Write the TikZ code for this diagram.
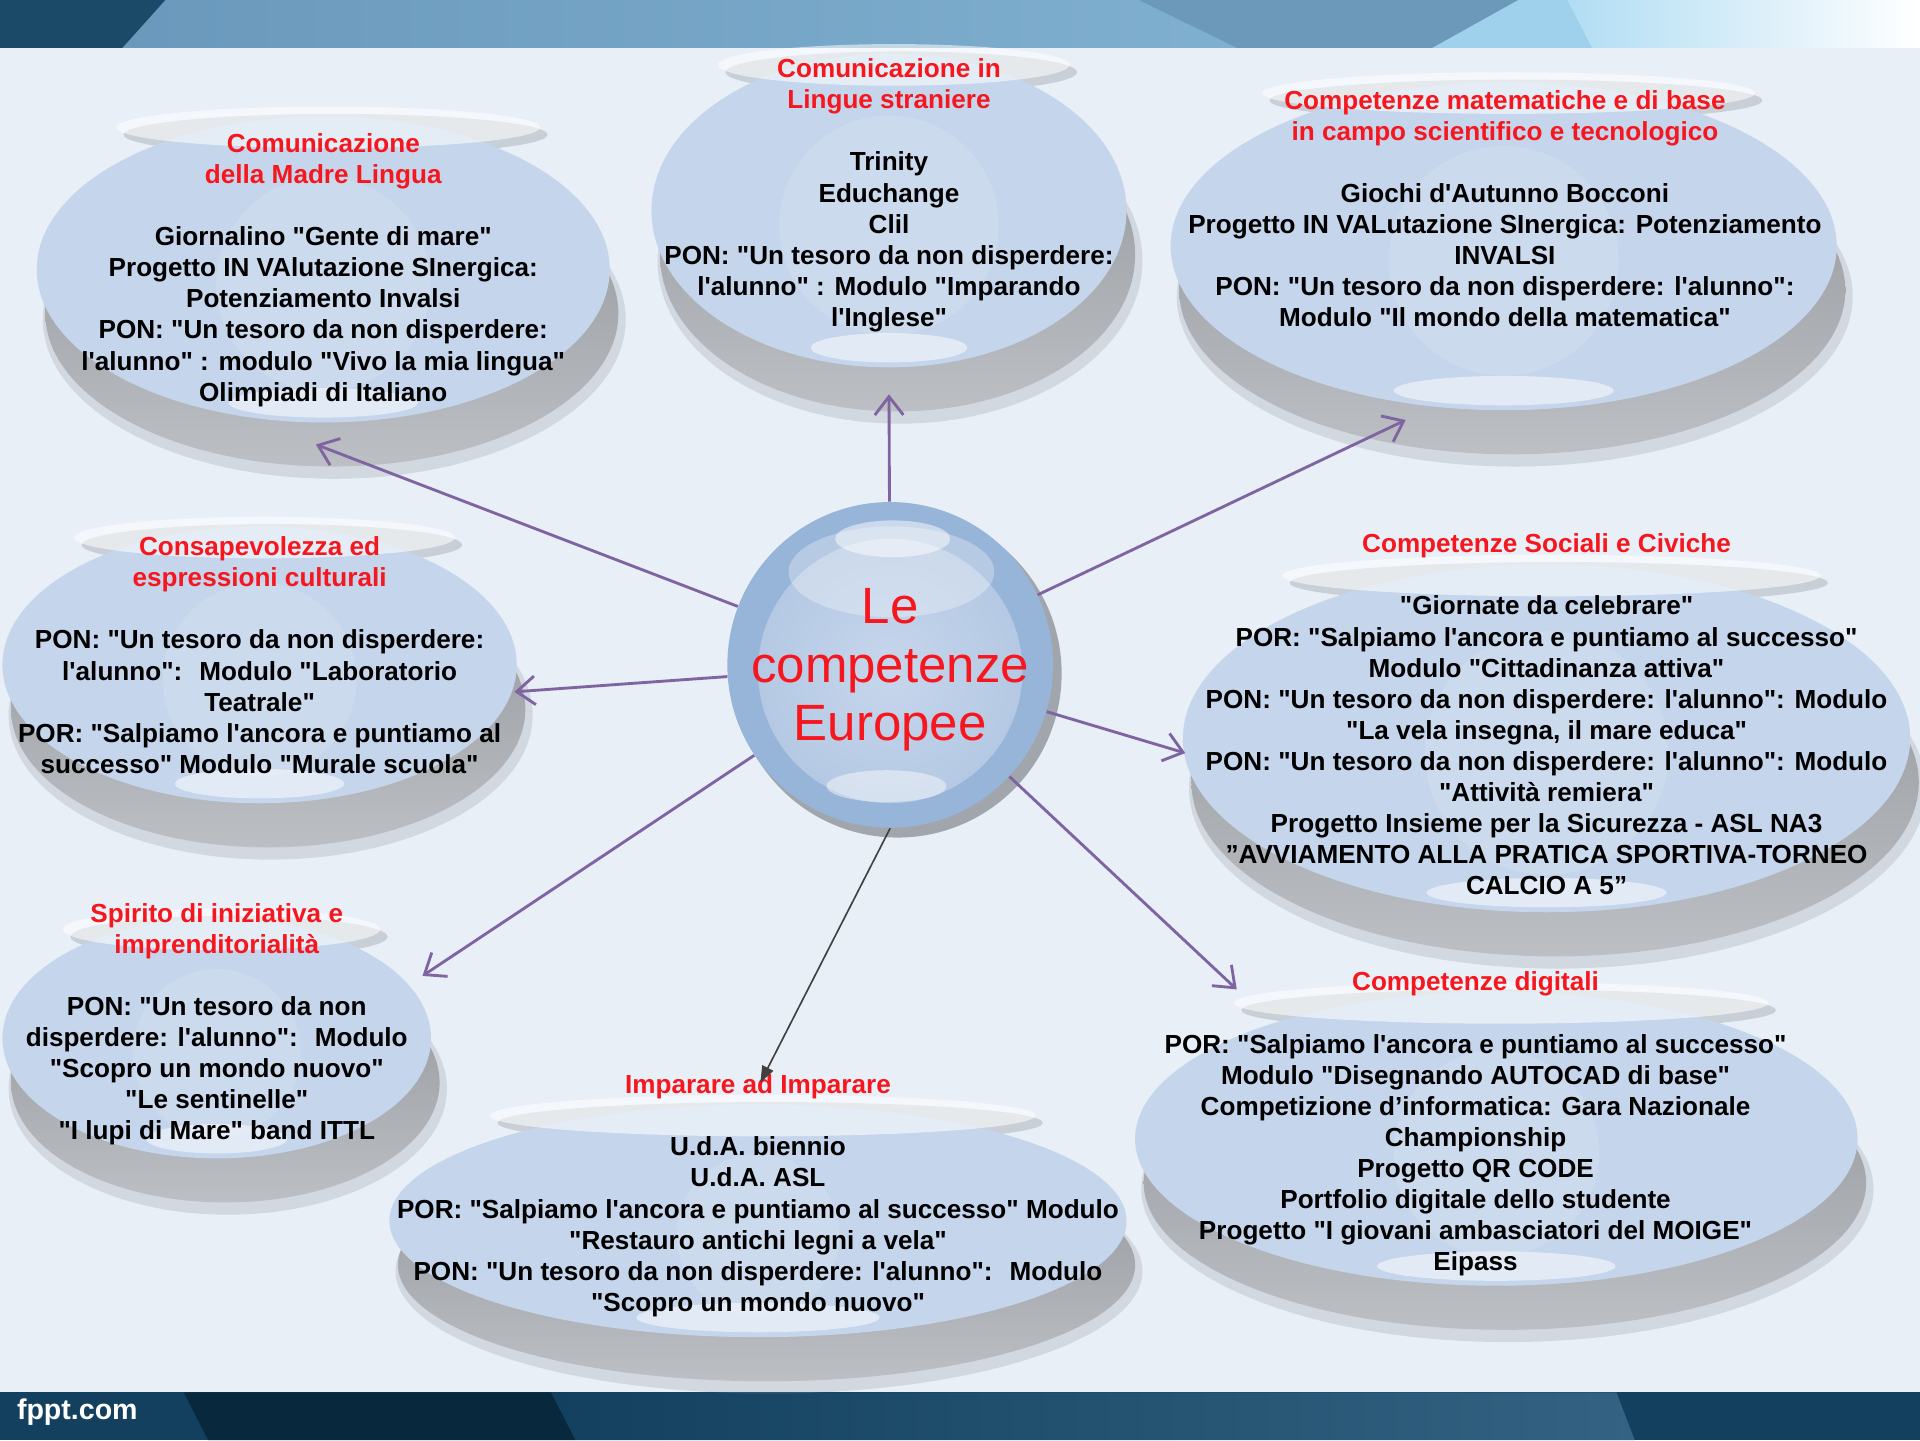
\documentclass[tikz,border=0pt]{standalone}
\usepackage{fontspec}
\setmainfont{Liberation Sans}[Ligatures=TeXOff]
\usepackage{tikz}
\usetikzlibrary{arrows.meta,positioning,shapes.geometric,calc}
\definecolor{fond}{RGB}{232,239,247}
\definecolor{bulle}{RGB}{197,213,235}
\definecolor{ombreA}{RGB}{146,150,156}
\definecolor{ombreB}{RGB}{188,191,195}
\definecolor{anneau}{RGB}{151,180,217}
\definecolor{coeur}{RGB}{181,201,228}
\definecolor{coeurclair}{RGB}{198,214,236}
\definecolor{fleche}{RGB}{128,100,162}
\definecolor{gris}{RGB}{64,64,64}
\definecolor{titre}{RGB}{245,22,30}
\definecolor{marine}{RGB}{27,74,104}
\definecolor{bleuA}{RGB}{103,150,186}
\definecolor{bleuB}{RGB}{134,182,212}
\definecolor{bleuC}{RGB}{108,153,186}
\definecolor{ciel}{RGB}{166,216,242}
\definecolor{nuit}{RGB}{18,64,94}
\definecolor{nuitB}{RGB}{8,40,62}
\definecolor{nuitC}{RGB}{52,98,130}

\begin{document}
\begin{tikzpicture}[x=0.6pt,y=-0.6pt,
    bouton/.style={ellipse,fill=bulle,inner sep=0pt},
    texte/.style={align=center,font=\fontsize{12.8}{15.24}\selectfont\bfseries},
    lien/.style={fleche,line width=1.4pt,-{Straight Barb[length=9pt,width=14pt,line width=1.4pt]}},
    trait/.style={gris,line width=0.8pt,-{Triangle[length=8pt,width=6pt]}}]
  \fill[fond] (0,0) rectangle (1568,1176);
  \useasboundingbox (0,0) rectangle (1568,1176);
  % bandeaux
  \shade[left color=bleuA,right color=bleuB] (0,0) rectangle (1260,39);
  \fill[bleuC] (930,0) -- (1250,0) -- (1170,39) -- (1010,39) -- cycle;
  \shade[left color=ciel,right color=white] (1240,0) rectangle (1568,39);
  \fill[ciel!80!bleuB] (1240,0) -- (1280,0) -- (1300,39) -- (1170,39) -- cycle;
  \fill[marine] (0,0) -- (135,0) -- (100,39) -- (0,39) -- cycle;
  \fill[nuit] (0,1137) rectangle (1568,1176);
  \fill[nuitB] (150,1137) -- (450,1137) -- (470,1176) -- (170,1176) -- cycle;
  \shade[left color=nuit,right color=nuitC] (450,1137) -- (1320,1137) -- (1335,1176) -- (470,1176) -- cycle;
  \node[anchor=west,text=white,font=\fontsize{14}{16}\selectfont\bfseries] (fppt) at (8,1153) {fppt.com};
  % bulles
  \foreach \n/\x/\y/\rx/\ry in {madre/264/220/234/125,lingue/726/172/194/128,
      mate/1228/201/272/134,consa/212/543/210/113,sociali/1263/603/297/142,
      spirito/177/848/175/98,imparare/619/997/301/95,digitali/1222/930/295/120}{
    \fill[ombreA,opacity=.25] (\x+9,\y+41) ellipse [x radius=\rx+4, y radius=\ry+5];
    \shade[top color=ombreA,bottom color=ombreB] (\x+7,\y+36) ellipse [x radius=\rx, y radius=\ry];
    \fill[ombreA,opacity=.35] (\x+10,\y-\ry+15) ellipse [x radius=0.74*\rx, y radius=17];
    \node[bouton,minimum width={1.2pt*\rx},minimum height={1.2pt*\ry}] (\n) at (\x,\y) {};
    \fill[white,opacity=.12] (\x,\y+12) circle [radius=0.7*\ry];
    \fill[white,opacity=.55] (\x+4,\y-\ry+9) ellipse [x radius=0.74*\rx, y radius=17];
    \fill[white,opacity=.5] (\x,\y+\ry-16) ellipse [x radius=0.33*\rx, y radius=12];
  }
  \node[texte] (madreT) at (264,220.5) {\textcolor{titre}{Comunicazione}\\\textcolor{titre}{della Madre Lingua}\\[15.24pt]
    Giornalino "Gente di mare"\\Progetto IN VAlutazione SInergica:\\Potenziamento Invalsi\\
    PON: "Un tesoro da non disperdere:\\l'alunno" : modulo "Vivo la mia lingua"\\Olimpiadi di Italiano};
  \node[texte] (lingueT) at (726,159.5) {\textcolor{titre}{Comunicazione in}\\\textcolor{titre}{Lingue straniere}\\[15.24pt]
    Trinity\\Educhange\\Clil\\PON: "Un tesoro da non disperdere:\\l'alunno" : Modulo "Imparando\\l'Inglese"};
  \node[texte] (mateT) at (1229,170.5) {\textcolor{titre}{Competenze matematiche e di base}\\\textcolor{titre}{in campo scientifico e tecnologico}\\[15.24pt]
    Giochi d'Autunno Bocconi\\Progetto IN VALutazione SInergica: Potenziamento\\INVALSI\\
    PON: "Un tesoro da non disperdere: l'alunno":\\Modulo "Il mondo della matematica"};
  \node[texte] (consaT) at (212,535) {\textcolor{titre}{Consapevolezza ed}\\\textcolor{titre}{espressioni culturali}\\[15.24pt]
    PON: "Un tesoro da non disperdere:\\l'alunno":~ Modulo "Laboratorio\\Teatrale"\\
    POR: "Salpiamo l'ancora e puntiamo al\\successo" Modulo "Murale scuola"};
  \node[texte] (socialiT) at (1263,583.5) {\textcolor{titre}{Competenze Sociali e Civiche}\\[15.24pt]
    "Giornate da celebrare"\\POR: "Salpiamo l'ancora e puntiamo al successo"\\Modulo "Cittadinanza attiva"\\
    PON: "Un tesoro da non disperdere: l'alunno": Modulo\\"La vela insegna, il mare educa"\\
    PON: "Un tesoro da non disperdere: l'alunno": Modulo\\"Attività remiera"\\
    Progetto Insieme per la Sicurezza - ASL NA3\\”AVVIAMENTO ALLA PRATICA SPORTIVA-TORNEO\\CALCIO A 5”};
  \node[texte] (spiritoT) at (177,836.5) {\textcolor{titre}{Spirito di iniziativa e}\\\textcolor{titre}{imprenditorialità}\\[15.24pt]
    PON: "Un tesoro da non\\disperdere: l'alunno":~ Modulo\\"Scopro un mondo nuovo"\\"Le sentinelle"\\"I lupi di Mare" band ITTL};
  \node[texte] (imparareT) at (619,976.5) {\textcolor{titre}{Imparare ad Imparare}\\[15.24pt]
    U.d.A. biennio\\U.d.A. ASL\\POR: "Salpiamo l'ancora e puntiamo al successo" Modulo\\"Restauro antichi legni a vela"\\
    PON: "Un tesoro da non disperdere: l'alunno":~ Modulo\\"Scopro un mondo nuovo"};
  \node[texte] (digitaliT) at (1205,918) {\textcolor{titre}{Competenze digitali}\\[15.24pt]
    POR: "Salpiamo l'ancora e puntiamo al successo"\\Modulo "Disegnando AUTOCAD di base"\\
    Competizione d’informatica: Gara Nazionale\\Championship\\Progetto QR CODE\\
    Portfolio digitale dello studente\\Progetto "I giovani ambasciatori del MOIGE"\\Eipass};
  % sfera centrale
  \fill[black,opacity=.3] (733,550) circle [radius=134];
  \node[circle,minimum size=159.6pt,inner sep=0pt,fill=anneau] (centro) at (727,543) {};
  \shade[inner color=coeurclair,outer color=coeur] (727,548) circle [radius=108];
  \fill[white,opacity=.3] (728,467) ellipse [x radius=84, y radius=37];
  \fill[white,opacity=.5] (729,440) ellipse [x radius=47, y radius=15];
  \fill[white,opacity=.45] (724,642) ellipse [x radius=49, y radius=13];
  \node[text=titre,align=center,font=\fontsize{25}{28.8}\selectfont] (centroT) at (727,547) {Le\\competenze\\Europee};
  % frecce
  \coordinate (pMadre) at (258,363);
  \coordinate (pLingue) at (726,322);
  \coordinate (pMate) at (1148,343);
  \coordinate (pConsa) at (420,565);
  \coordinate (pSociali) at (968,615);
  \coordinate (pSpirito) at (345,797);
  \coordinate (pDigitali) at (1010,808);
  \coordinate (pImparare) at (621,884);
  \foreach \p in {pMadre,pLingue,pMate,pConsa,pSociali,pSpirito,pDigitali}
    \draw[lien] (centro) -- (\p);
  \draw[trait] (centro.south) -- (pImparare);
\end{tikzpicture}
\end{document}
